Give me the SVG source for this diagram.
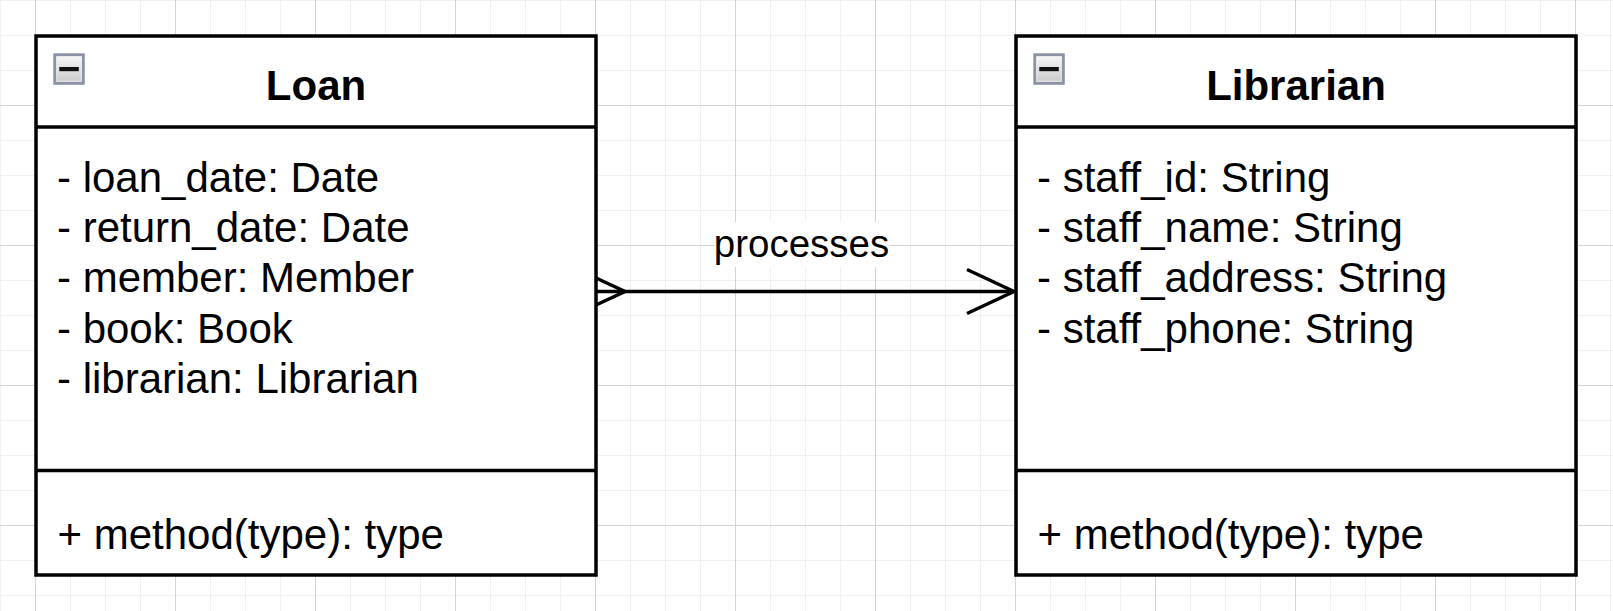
<svg xmlns="http://www.w3.org/2000/svg" width="1613" height="611" viewBox="0 0 1613 611">
  <style>
    .box { fill: #ffffff; stroke: #000000; stroke-width: 3.5; }
    .sep { stroke: #000000; stroke-width: 3.5; fill: none; }
    .title { font-family: "Liberation Sans", Arial, sans-serif; font-size: 42px; font-weight: bold; fill: #000000; text-anchor: middle; }
    .item { font-family: "Liberation Sans", Arial, sans-serif; font-size: 42px; fill: #000000; }
    .label { font-family: "Liberation Sans", Arial, sans-serif; font-size: 38.5px; fill: #000000; text-anchor: middle; }
    .conn { stroke: #000000; stroke-width: 3.5; fill: none; stroke-linecap: butt; stroke-linejoin: miter; }
    .iconframe { stroke: #8b93a4; stroke-width: 3; }
  </style>
  <defs>
    <pattern id="grid" patternUnits="userSpaceOnUse" x="35" y="105" width="140" height="140">
      <rect x="0" y="0" width="140" height="140" fill="#ffffff"/>
      <rect x="35" y="0" width="1" height="140" fill="#f1f1f1"/>
      <rect x="70" y="0" width="1" height="140" fill="#f1f1f1"/>
      <rect x="105" y="0" width="1" height="140" fill="#f1f1f1"/>
      <rect x="0" y="35" width="140" height="1" fill="#f1f1f1"/>
      <rect x="0" y="70" width="140" height="1" fill="#f1f1f1"/>
      <rect x="0" y="105" width="140" height="1" fill="#f1f1f1"/>
      <rect x="0" y="0" width="1" height="140" fill="#d4d4d4"/>
      <rect x="0" y="0" width="140" height="1" fill="#d4d4d4"/>
    </pattern>
    <linearGradient id="iconGrad" x1="0" y1="0" x2="0" y2="1">
      <stop offset="0" stop-color="#f7f7f7"/>
      <stop offset="1" stop-color="#c9c9c9"/>
    </linearGradient>
    <g id="collapseIcon">
      <rect x="0" y="0" width="28.5" height="28.5" fill="url(#iconGrad)" class="iconframe"/>
      <rect x="2" y="2" width="24.5" height="24.5" fill="none" stroke="#ffffff" stroke-opacity="0.6" stroke-width="1"/>
      <rect x="4.5" y="12.2" width="19.5" height="4.2" fill="#111111"/>
    </g>
  </defs>

  <rect x="0" y="0" width="1613" height="611" fill="url(#grid)"/>

  <g id="connectors">
    <g id="edge-processes">
      <line class="conn" x1="596" y1="291.5" x2="1014" y2="291.5"/>
      <polyline class="conn" points="596,278 625,291.5 596,305"/>
      <polyline class="conn" points="967,269.5 1014,291.5 967,313.5"/>
      <rect x="715" y="222" width="174" height="45" fill="#ffffff"/>
      <text class="label" x="801.5" y="257">processes</text>
    </g>
  </g>

  <g id="node-loan">
    <rect class="box" x="36" y="36" width="560" height="539"/>
    <line class="sep" x1="36" y1="127" x2="596" y2="127"/>
    <line class="sep" x1="36" y1="470.5" x2="596" y2="470.5"/>
    <use href="#collapseIcon" x="54.8" y="54.8"/>
    <text class="title" x="316" y="99.5">Loan</text>
    <text class="item" x="57" y="191.5">- loan_date: Date</text>
    <text class="item" x="57" y="241.9">- return_date: Date</text>
    <text class="item" x="57" y="292.3">- member: Member</text>
    <text class="item" x="57" y="342.7">- book: Book</text>
    <text class="item" x="57" y="393.1">- librarian: Librarian</text>
    <text class="item" x="57.5" y="548.5">+ method(type): type</text>
  </g>

  <g id="node-librarian">
    <rect class="box" x="1016" y="36" width="560" height="539"/>
    <line class="sep" x1="1016" y1="127" x2="1576" y2="127"/>
    <line class="sep" x1="1016" y1="470.5" x2="1576" y2="470.5"/>
    <use href="#collapseIcon" x="1034.8" y="54.8"/>
    <text class="title" x="1296" y="99.5">Librarian</text>
    <text class="item" x="1037" y="191.5">- staff_id: String</text>
    <text class="item" x="1037" y="241.9">- staff_name: String</text>
    <text class="item" x="1037" y="292.3">- staff_address: String</text>
    <text class="item" x="1037" y="342.7">- staff_phone: String</text>
    <text class="item" x="1037.5" y="548.5">+ method(type): type</text>
  </g>
</svg>
